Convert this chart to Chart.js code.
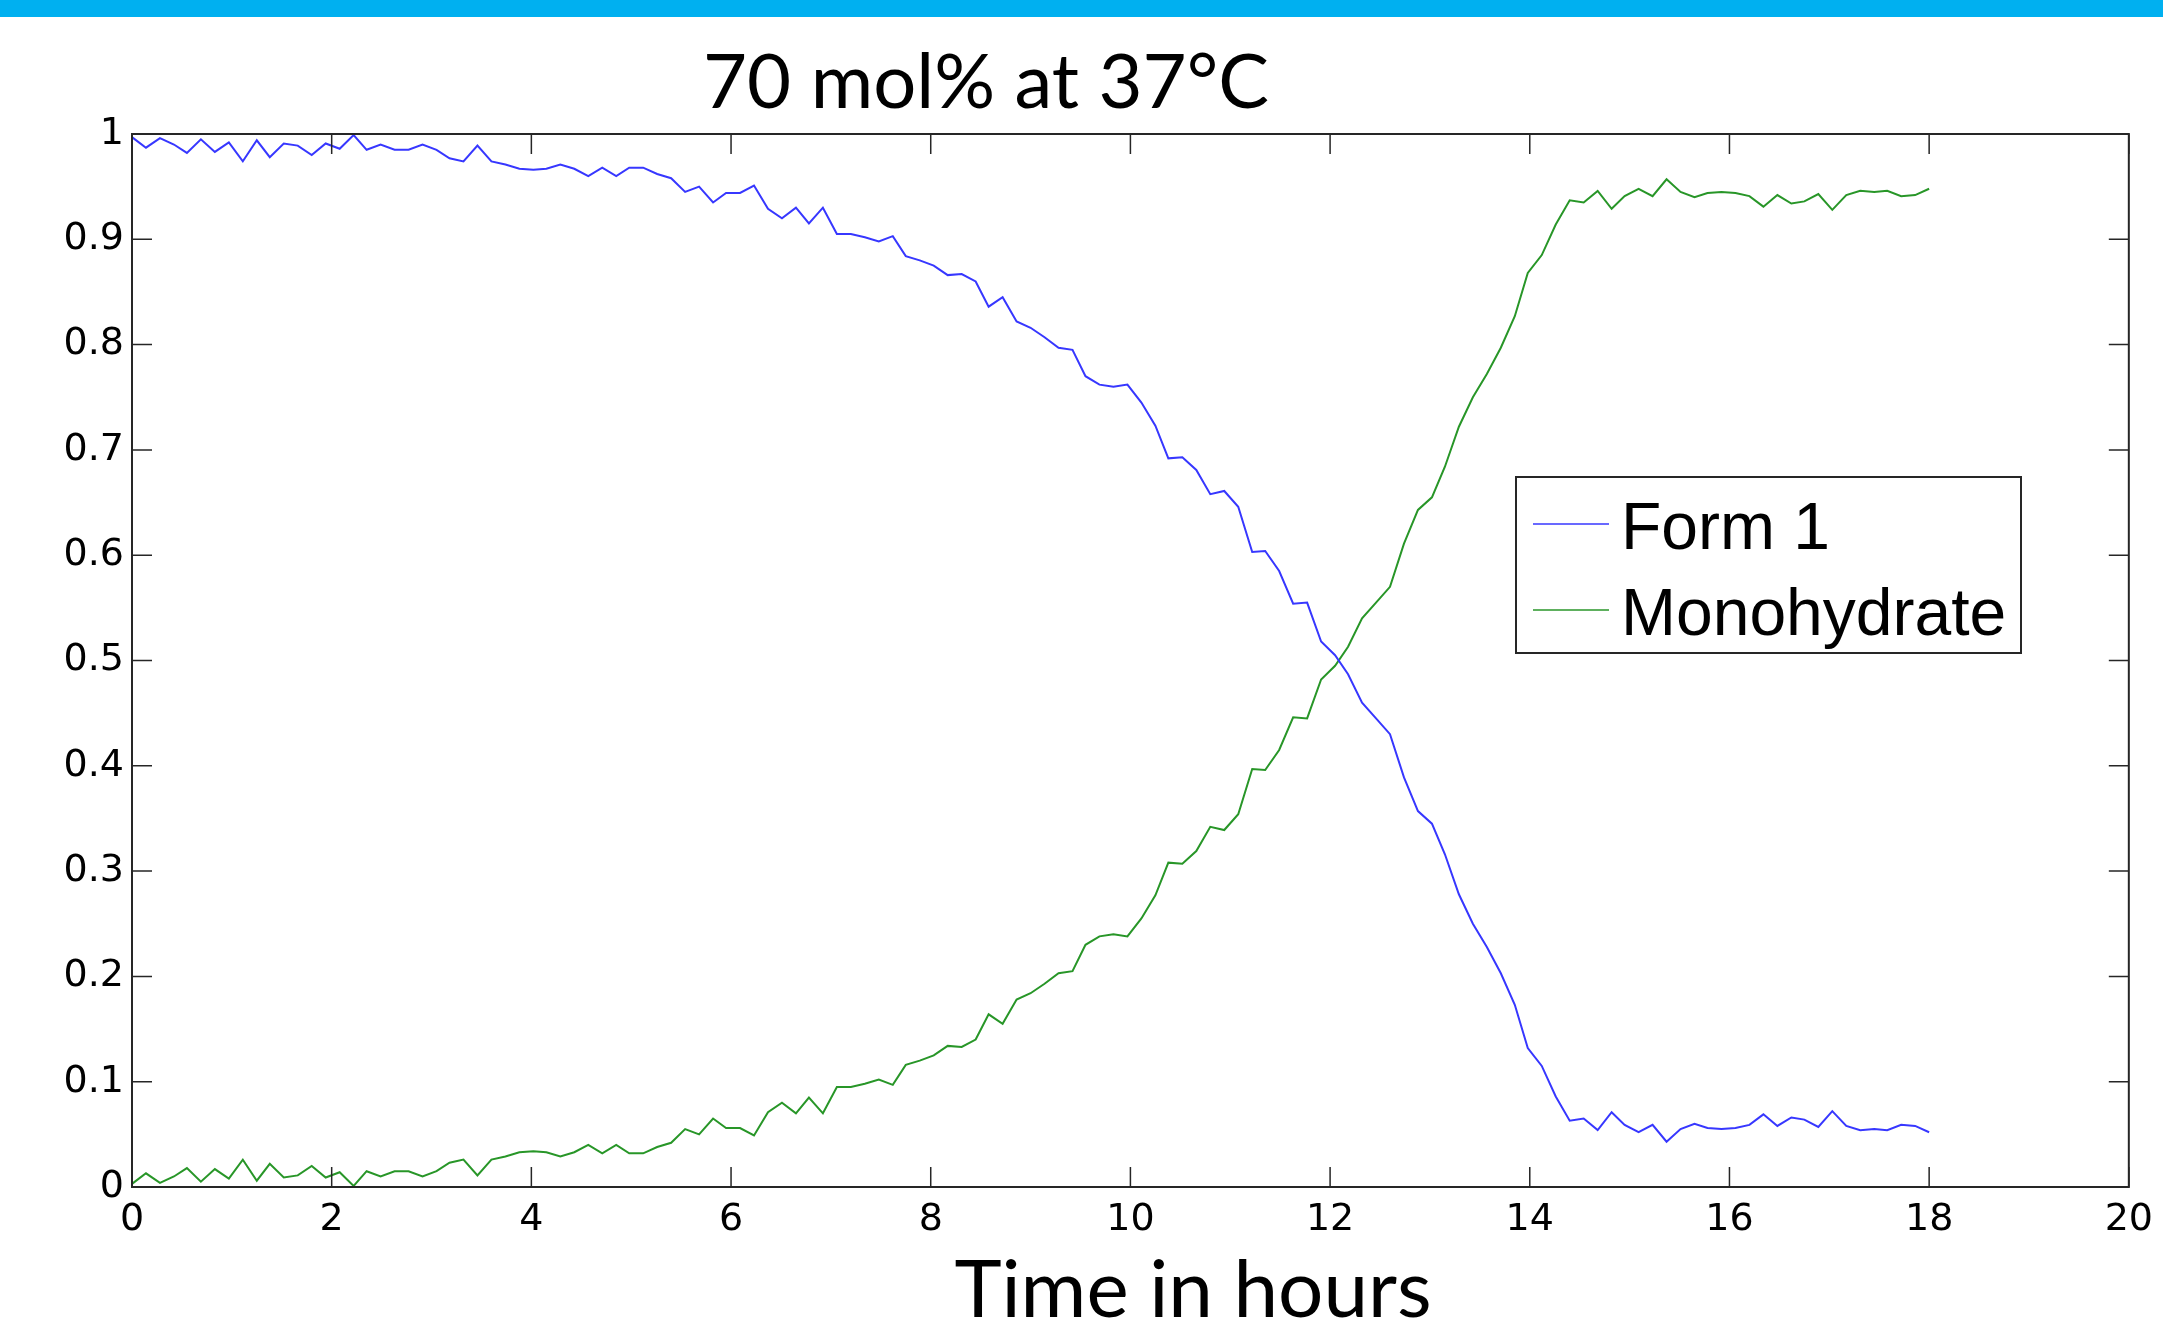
<!DOCTYPE html>
<html>
<head>
<meta charset="utf-8">
<title>70 mol% at 37°C</title>
<script src="https://cdn.jsdelivr.net/npm/chart.js@4.4.1/dist/chart.umd.min.js"></script>
<style>
html, body { margin: 0; padding: 0; background: #fff; overflow: hidden; }
#kinetics { position: absolute; left: 0; top: 0; }
#topbar { position: absolute; left: 0; top: 0; width: 2163px; height: 17px; background: #00b0f0; }
</style>
</head>
<body>
<canvas id="kinetics" width="2163" height="1322"></canvas>
<div id="topbar"></div>
<script>
// Form 1 -> monohydrate conversion, 70 mol% at 37°C

var chartTitle = "70 mol% at 37°C";
var xAxisTitle = "Time in hours";
var seriesNames = ["Form 1", "Monohydrate"];

// sample times (hours)
var hours = [0, 0.14, 0.28, 0.42, 0.55, 0.69, 0.83, 0.97, 1.11, 1.25,
	1.38, 1.52, 1.66, 1.80, 1.94, 2.08, 2.22, 2.35, 2.49, 2.63,
	2.77, 2.91, 3.05, 3.18, 3.32, 3.46, 3.60, 3.74, 3.88, 4.02,
	4.15, 4.29, 4.43, 4.57, 4.71, 4.85, 4.98, 5.12, 5.26, 5.40,
	5.54, 5.68, 5.82, 5.95, 6.09, 6.23, 6.37, 6.51, 6.65, 6.78,
	6.92, 7.06, 7.20, 7.34, 7.48, 7.62, 7.75, 7.89, 8.03, 8.17,
	8.31, 8.45, 8.58, 8.72, 8.86, 9.00, 9.14, 9.28, 9.42, 9.55,
	9.69, 9.83, 9.97, 10.11, 10.25, 10.38, 10.52, 10.66, 10.80, 10.94,
	11.08, 11.22, 11.35, 11.49, 11.63, 11.77, 11.91, 12.05, 12.18, 12.32,
	12.46, 12.60, 12.74, 12.88, 13.02, 13.15, 13.29, 13.43, 13.57, 13.71,
	13.85, 13.98, 14.12, 14.26, 14.40, 14.54, 14.68, 14.82, 14.95, 15.09,
	15.23, 15.37, 15.51, 15.65, 15.78, 15.92, 16.06, 16.20, 16.34, 16.48,
	16.62, 16.75, 16.89, 17.03, 17.17, 17.31, 17.45, 17.58, 17.72, 17.86,
	18.00];

// fraction of form 1
var form1 = [0.997, 0.987, 0.996, 0.990, 0.982, 0.995, 0.983, 0.992, 0.974, 0.994,
	0.978, 0.991, 0.989, 0.980, 0.991, 0.986, 0.999, 0.985, 0.990, 0.985,
	0.985, 0.990, 0.985, 0.977, 0.974, 0.989, 0.974, 0.971, 0.967, 0.966,
	0.967, 0.971, 0.967, 0.960, 0.968, 0.960, 0.968, 0.968, 0.962, 0.958,
	0.945, 0.950, 0.935, 0.944, 0.944, 0.951, 0.929, 0.920, 0.930, 0.915,
	0.930, 0.905, 0.905, 0.902, 0.898, 0.903, 0.884, 0.880, 0.875, 0.866,
	0.867, 0.860, 0.836, 0.845, 0.822, 0.816, 0.807, 0.797, 0.795, 0.770,
	0.762, 0.760, 0.762, 0.745, 0.723, 0.692, 0.693, 0.681, 0.658, 0.661,
	0.646, 0.603, 0.604, 0.585, 0.554, 0.555, 0.518, 0.505, 0.487, 0.460,
	0.445, 0.430, 0.389, 0.357, 0.345, 0.316, 0.278, 0.250, 0.228, 0.203,
	0.173, 0.132, 0.115, 0.086, 0.063, 0.065, 0.054, 0.071, 0.059, 0.052,
	0.059, 0.043, 0.055, 0.060, 0.056, 0.055, 0.056, 0.059, 0.069, 0.058,
	0.066, 0.064, 0.057, 0.072, 0.058, 0.054, 0.055, 0.054, 0.059, 0.058,
	0.052];

// fraction of monohydrate
var monohydrate = [0.003, 0.013, 0.004, 0.010, 0.018, 0.005, 0.017, 0.008, 0.026, 0.006,
	0.022, 0.009, 0.011, 0.020, 0.009, 0.014, 0.001, 0.015, 0.010, 0.015,
	0.015, 0.010, 0.015, 0.023, 0.026, 0.011, 0.026, 0.029, 0.033, 0.034,
	0.033, 0.029, 0.033, 0.040, 0.032, 0.040, 0.032, 0.032, 0.038, 0.042,
	0.055, 0.050, 0.065, 0.056, 0.056, 0.049, 0.071, 0.080, 0.070, 0.085,
	0.070, 0.095, 0.095, 0.098, 0.102, 0.097, 0.116, 0.120, 0.125, 0.134,
	0.133, 0.140, 0.164, 0.155, 0.178, 0.184, 0.193, 0.203, 0.205, 0.230,
	0.238, 0.240, 0.238, 0.255, 0.277, 0.308, 0.307, 0.319, 0.342, 0.339,
	0.354, 0.397, 0.396, 0.415, 0.446, 0.445, 0.482, 0.495, 0.513, 0.540,
	0.555, 0.570, 0.611, 0.643, 0.655, 0.684, 0.722, 0.750, 0.772, 0.797,
	0.827, 0.868, 0.885, 0.914, 0.937, 0.935, 0.946, 0.929, 0.941, 0.948,
	0.941, 0.957, 0.945, 0.940, 0.944, 0.945, 0.944, 0.941, 0.931, 0.942,
	0.934, 0.936, 0.943, 0.928, 0.942, 0.946, 0.945, 0.946, 0.941, 0.942,
	0.948];

function toPoints(values) {
	return values.map(function(v, i) { return { x: hours[i], y: v }; });
}

//axes box with inward ticks on all four sides
var boxPlugin = {
	id: 'matlabBox',
	afterDatasetsDraw: function(chart) {
		var c = chart.ctx, a = chart.chartArea;
		var sx = chart.scales.x, sy = chart.scales.y;
		var len = 20;
		c.save();
		c.strokeStyle = '#262626';
		c.lineWidth = 1.5;
		c.beginPath();
		sx.ticks.forEach(function(t) {
			var px = sx.getPixelForValue(t.value);
			c.moveTo(px, a.bottom); c.lineTo(px, a.bottom - len);
			c.moveTo(px, a.top); c.lineTo(px, a.top + len);
		});
		sy.ticks.forEach(function(t) {
			var py = sy.getPixelForValue(t.value);
			c.moveTo(a.left, py); c.lineTo(a.left + len, py);
			c.moveTo(a.right, py); c.lineTo(a.right - len, py);
		});
		c.stroke();
		c.lineWidth = 2;
		c.strokeRect(a.left, a.top, a.right - a.left, a.bottom - a.top);
		c.restore();
	}
};

//boxed legend inside the plot
var legendPlugin = {
	id: 'boxLegend',
	afterDraw: function(chart) {
		var c = chart.ctx, a = chart.chartArea;
		var x0 = a.left + 1384, y0 = a.top + 343, w = 505, h = 176;
		c.save();
		c.fillStyle = '#fff';
		c.fillRect(x0, y0, w, h);
		c.strokeStyle = '#262626';
		c.lineWidth = 2;
		c.strokeRect(x0, y0, w, h);
		c.font = '66px "Liberation Sans"';
		c.textBaseline = 'alphabetic';
		chart.data.datasets.forEach(function(ds, i) {
			var yMid = y0 + 47 + i * 86;
			c.strokeStyle = ds.borderColor;
			c.lineWidth = 1.5;
			c.beginPath();
			c.moveTo(x0 + 17, yMid);
			c.lineTo(x0 + 93, yMid);
			c.stroke();
			c.fillStyle = '#000';
			c.fillText(ds.label, x0 + 105, yMid + 25);
		});
		c.restore();
	}
};

//slide title and x axis title
var textPlugin = {
	id: 'slideText',
	afterDraw: function(chart) {
		var c = chart.ctx, a = chart.chartArea;
		c.save();
		c.fillStyle = '#000';
		c.textAlign = 'center';
		c.textBaseline = 'alphabetic';
		c.font = '76px Lato';
		c.fillText(chartTitle, a.left + 854, a.top - 26);
		c.font = '80px Lato';
		c.fillText(xAxisTitle, a.left + 1061, a.bottom + 130);
		c.restore();
	}
};

var tickFont = { family: '"DejaVu Sans"', size: 38 };

var ctx = document.getElementById('kinetics');

var chart = new Chart(ctx, {
	type: 'line',
	data: {
		datasets: [
			{
				label: seriesNames[0],
				data: toPoints(form1),
				borderColor: 'rgb(55, 55, 255)',
				borderWidth: 2,
				pointRadius: 0,
				tension: 0,
				fill: false
			},
			{
				label: seriesNames[1],
				data: toPoints(monohydrate),
				borderColor: 'rgb(40, 150, 40)',
				borderWidth: 2,
				pointRadius: 0,
				tension: 0,
				fill: false
			}
		]
	},
	options: {
		responsive: false,
		animation: false,
		devicePixelRatio: 1,
		layout: { padding: { top: 134, right: 33, left: 0, bottom: 0 } },
		plugins: {
			legend: { display: false },
			title: { display: false },
			tooltip: { enabled: false }
		},
		scales: {
			x: {
				type: 'linear',
				min: 0,
				max: 20,
				grid: { display: false, drawTicks: false },
				border: { display: false },
				ticks: { stepSize: 2, font: tickFont, color: '#000', padding: 10, maxRotation: 0 },
				afterFit: function(scale) { scale.height = 135; }
			},
			y: {
				min: 0,
				max: 1,
				grid: { display: false, drawTicks: false },
				border: { display: false },
				ticks: {
					stepSize: 0.1,
					font: tickFont,
					color: '#000',
					padding: 8,
					callback: function(v) { return String(Math.round(v * 10) / 10); }
				},
				afterFit: function(scale) { scale.width = 132; }
			}
		}
	},
	plugins: [boxPlugin, legendPlugin, textPlugin]
});
</script>
</body>
</html>
